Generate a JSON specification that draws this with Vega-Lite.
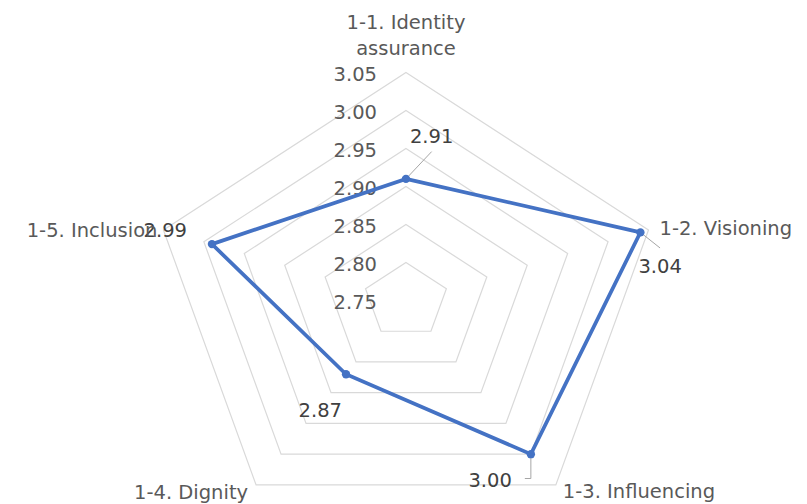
{
  "$schema": "https://vega.github.io/schema/vega-lite/v6.json",
  "width": 807,
  "height": 504,
  "padding": 0,
  "autosize": "none",
  "background": "white",
  "config": {"view": {"stroke": null}, "text": {"font": "DejaVu Sans", "fontSize": 19.5}},
  "datasets": {
    "scores": [
      {"axis": "1-1. Identity\nassurance", "order": 0, "value": 2.91},
      {"axis": "1-2. Visioning", "order": 1, "value": 3.04},
      {"axis": "1-3. Influencing", "order": 2, "value": 3.00},
      {"axis": "1-4. Dignity", "order": 3, "value": 2.87},
      {"axis": "1-5. Inclusion", "order": 4, "value": 2.99}
    ],
    "rings": [
      {"level": 2.80, "k": [0, 1, 2, 3, 4]},
      {"level": 2.85, "k": [0, 1, 2, 3, 4]},
      {"level": 2.90, "k": [0, 1, 2, 3, 4]},
      {"level": 2.95, "k": [0, 1, 2, 3, 4]},
      {"level": 3.00, "k": [0, 1, 2, 3, 4]},
      {"level": 3.05, "k": [0, 1, 2, 3, 4]}
    ],
    "ticks": [
      {"level": 2.75}, {"level": 2.80}, {"level": 2.85}, {"level": 2.90},
      {"level": 2.95}, {"level": 3.00}, {"level": 3.05}
    ]
  },
  "encoding": {
    "x": {"field": "px", "type": "quantitative", "scale": {"domain": [-0.4776, 0.4718], "nice": false, "zero": false}, "axis": null},
    "y": {"field": "py", "type": "quantitative", "scale": {"domain": [-0.2678, 0.3954], "nice": false, "zero": false}, "axis": null}
  },
  "layer": [
    {
      "data": {"name": "rings"},
      "transform": [
        {"flatten": ["k"]},
        {"calculate": "(datum.level - 2.75) * sin(datum.k * 2 * PI / 5)", "as": "px"},
        {"calculate": "(datum.level - 2.75) * cos(datum.k * 2 * PI / 5)", "as": "py"}
      ],
      "mark": {"type": "line", "interpolate": "linear-closed", "stroke": "#d9d9d9", "strokeWidth": 1.2},
      "encoding": {"detail": {"field": "level"}, "order": {"field": "k", "type": "quantitative"}}
    },
    {
      "data": {"name": "ticks"},
      "transform": [
        {"calculate": "0", "as": "px"},
        {"calculate": "datum.level - 2.75", "as": "py"}
      ],
      "mark": {"type": "text", "align": "right", "baseline": "alphabetic", "dx": -29, "dy": 9, "fill": "#595959"},
      "encoding": {"text": {"field": "level", "type": "quantitative", "format": ".2f"}}
    },
    {
      "data": {"name": "scores"},
      "transform": [
        {"calculate": "(datum.value - 2.75) * sin(datum.order * 2 * PI / 5)", "as": "px"},
        {"calculate": "(datum.value - 2.75) * cos(datum.order * 2 * PI / 5)", "as": "py"},
        {"filter": "datum.order == 0"},
        {"calculate": "datum.px + 0.0302", "as": "px2"},
        {"calculate": "datum.py + 0.0359", "as": "py2"}
      ],
      "mark": {"type": "rule", "stroke": "#a6a6a6", "strokeWidth": 1},
      "encoding": {"x2": {"field": "px2"}, "y2": {"field": "py2"}}
    },
    {
      "data": {"name": "scores"},
      "transform": [
        {"calculate": "(datum.value - 2.75) * sin(datum.order * 2 * PI / 5)", "as": "px"},
        {"calculate": "(datum.value - 2.75) * cos(datum.order * 2 * PI / 5)", "as": "py"},
        {"filter": "datum.order == 1"},
        {"calculate": "datum.px + 0.0231", "as": "px2"},
        {"calculate": "datum.py - 0.0205", "as": "py2"}
      ],
      "mark": {"type": "rule", "stroke": "#a6a6a6", "strokeWidth": 1},
      "encoding": {"x2": {"field": "px2"}, "y2": {"field": "py2"}}
    },
    {
      "data": {"name": "scores"},
      "transform": [
        {"calculate": "(datum.value - 2.75) * sin(datum.order * 2 * PI / 5)", "as": "px"},
        {"calculate": "(datum.value - 2.75) * cos(datum.order * 2 * PI / 5)", "as": "py"},
        {"filter": "datum.order == 2"},
        {"calculate": "datum.px", "as": "px2"},
        {"calculate": "datum.py - 0.032", "as": "py2"}
      ],
      "mark": {"type": "rule", "stroke": "#a6a6a6", "strokeWidth": 1},
      "encoding": {"x2": {"field": "px2"}, "y2": {"field": "py2"}}
    },
    {
      "data": {"name": "scores"},
      "transform": [
        {"calculate": "(datum.value - 2.75) * sin(datum.order * 2 * PI / 5)", "as": "px0"},
        {"calculate": "(datum.value - 2.75) * cos(datum.order * 2 * PI / 5) - 0.032", "as": "py"},
        {"filter": "datum.order == 2"},
        {"calculate": "datum.px0", "as": "px"},
        {"calculate": "datum.px0 - 0.0071", "as": "px2"}
      ],
      "mark": {"type": "rule", "stroke": "#a6a6a6", "strokeWidth": 1},
      "encoding": {"x2": {"field": "px2"}}
    },
    {
      "data": {"name": "scores"},
      "transform": [
        {"calculate": "(datum.value - 2.75) * sin(datum.order * 2 * PI / 5)", "as": "px"},
        {"calculate": "(datum.value - 2.75) * cos(datum.order * 2 * PI / 5)", "as": "py"}
      ],
      "mark": {"type": "line", "interpolate": "linear-closed", "stroke": "#4472C4", "strokeWidth": 3.75},
      "encoding": {"order": {"field": "order", "type": "quantitative"}}
    },
    {
      "data": {"name": "scores"},
      "transform": [
        {"calculate": "(datum.value - 2.75) * sin(datum.order * 2 * PI / 5)", "as": "px"},
        {"calculate": "(datum.value - 2.75) * cos(datum.order * 2 * PI / 5)", "as": "py"}
      ],
      "mark": {"type": "point", "filled": true, "fill": "#4472C4", "size": 70, "opacity": 1}
    },
    {
      "data": {"name": "scores"},
      "transform": [
        {"calculate": "(datum.value - 2.75) * sin(datum.order * 2 * PI / 5)", "as": "px"},
        {"calculate": "(datum.value - 2.75) * cos(datum.order * 2 * PI / 5)", "as": "py"},
        {"filter": "datum.order == 0"}
      ],
      "mark": {"type": "text", "align": "left", "baseline": "alphabetic", "dx": 4, "dy": -36, "fill": "#404040"},
      "encoding": {"text": {"field": "value", "type": "quantitative", "format": ".2f"}}
    },
    {
      "data": {"name": "scores"},
      "transform": [
        {"calculate": "(datum.value - 2.75) * sin(datum.order * 2 * PI / 5)", "as": "px"},
        {"calculate": "(datum.value - 2.75) * cos(datum.order * 2 * PI / 5)", "as": "py"},
        {"filter": "datum.order == 1"}
      ],
      "mark": {"type": "text", "align": "left", "baseline": "alphabetic", "dx": -2, "dy": 41, "fill": "#404040"},
      "encoding": {"text": {"field": "value", "type": "quantitative", "format": ".2f"}}
    },
    {
      "data": {"name": "scores"},
      "transform": [
        {"calculate": "(datum.value - 2.75) * sin(datum.order * 2 * PI / 5)", "as": "px"},
        {"calculate": "(datum.value - 2.75) * cos(datum.order * 2 * PI / 5)", "as": "py"},
        {"filter": "datum.order == 2"}
      ],
      "mark": {"type": "text", "align": "right", "baseline": "alphabetic", "dx": -19, "dy": 33, "fill": "#404040"},
      "encoding": {"text": {"field": "value", "type": "quantitative", "format": ".2f"}}
    },
    {
      "data": {"name": "scores"},
      "transform": [
        {"calculate": "(datum.value - 2.75) * sin(datum.order * 2 * PI / 5)", "as": "px"},
        {"calculate": "(datum.value - 2.75) * cos(datum.order * 2 * PI / 5)", "as": "py"},
        {"filter": "datum.order == 3"}
      ],
      "mark": {"type": "text", "align": "right", "baseline": "alphabetic", "dx": -4, "dy": 43, "fill": "#404040"},
      "encoding": {"text": {"field": "value", "type": "quantitative", "format": ".2f"}}
    },
    {
      "data": {"name": "scores"},
      "transform": [
        {"calculate": "(datum.value - 2.75) * sin(datum.order * 2 * PI / 5)", "as": "px"},
        {"calculate": "(datum.value - 2.75) * cos(datum.order * 2 * PI / 5)", "as": "py"},
        {"filter": "datum.order == 4"}
      ],
      "mark": {"type": "text", "align": "right", "baseline": "alphabetic", "dx": -25, "dy": -7, "fill": "#404040"},
      "encoding": {"text": {"field": "value", "type": "quantitative", "format": ".2f"}}
    },
    {
      "data": {"name": "scores"},
      "transform": [
        {"calculate": "0.30 * sin(datum.order * 2 * PI / 5)", "as": "px"},
        {"calculate": "0.30 * cos(datum.order * 2 * PI / 5)", "as": "py"},
        {"filter": "datum.order == 0"}
      ],
      "mark": {"type": "text", "align": "center", "baseline": "alphabetic", "dy": -43, "lineBreak": "\n", "lineHeight": 26, "fill": "#595959"},
      "encoding": {"text": {"field": "axis"}}
    },
    {
      "data": {"name": "scores"},
      "transform": [
        {"calculate": "0.30 * sin(datum.order * 2 * PI / 5)", "as": "px"},
        {"calculate": "0.30 * cos(datum.order * 2 * PI / 5)", "as": "py"},
        {"filter": "datum.order == 1"}
      ],
      "mark": {"type": "text", "align": "left", "baseline": "alphabetic", "dx": 11, "dy": 5, "fill": "#595959"},
      "encoding": {"text": {"field": "axis"}}
    },
    {
      "data": {"name": "scores"},
      "transform": [
        {"calculate": "0.30 * sin(datum.order * 2 * PI / 5)", "as": "px"},
        {"calculate": "0.30 * cos(datum.order * 2 * PI / 5)", "as": "py"},
        {"filter": "datum.order == 2"}
      ],
      "mark": {"type": "text", "align": "left", "baseline": "alphabetic", "dx": 7, "dy": 13, "fill": "#595959"},
      "encoding": {"text": {"field": "axis"}}
    },
    {
      "data": {"name": "scores"},
      "transform": [
        {"calculate": "0.30 * sin(datum.order * 2 * PI / 5)", "as": "px"},
        {"calculate": "0.30 * cos(datum.order * 2 * PI / 5)", "as": "py"},
        {"filter": "datum.order == 3"}
      ],
      "mark": {"type": "text", "align": "right", "baseline": "alphabetic", "dx": -8, "dy": 14, "fill": "#595959"},
      "encoding": {"text": {"field": "axis"}}
    },
    {
      "data": {"name": "scores"},
      "transform": [
        {"calculate": "0.30 * sin(datum.order * 2 * PI / 5)", "as": "px"},
        {"calculate": "0.30 * cos(datum.order * 2 * PI / 5)", "as": "py"},
        {"filter": "datum.order == 4"}
      ],
      "mark": {"type": "text", "align": "right", "baseline": "alphabetic", "dx": -6, "dy": 7, "fill": "#595959"},
      "encoding": {"text": {"field": "axis"}}
    }
  ]
}
